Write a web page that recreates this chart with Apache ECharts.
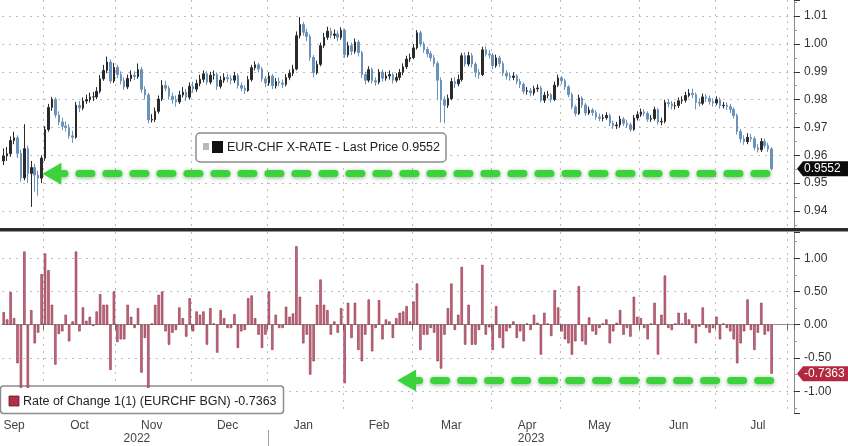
<!DOCTYPE html>
<html><head><meta charset="utf-8">
<script src="https://cdn.jsdelivr.net/npm/echarts@6/dist/echarts.min.js"></script>
<style>html,body{margin:0;padding:0;background:#fff}#c{width:848px;height:446px}</style>
</head><body><div id="c"></div>
<script>
// ---------- data ----------
const startDate = '2022-09-15';
const endDate = '2023-08-02';
const monthNames = ['Jan','Feb','Mar','Apr','May','Jun','Jul','Aug','Sep','Oct','Nov','Dec'];
const monthLabelDates = ['2022-09-20','2022-10-17','2022-11-15','2022-12-15','2023-01-16','2023-02-15','2023-03-16','2023-04-17','2023-05-16','2023-06-16','2023-07-19'];
const yearLabelDates = ['2022-11-09','2023-04-18'];

const open = [
0.9580,0.9598,0.9606,0.9653,0.9663,0.9607,0.9519,0.9624,0.9535,0.9556,
0.9529,0.9518,0.9590,0.9693,0.9772,0.9801,0.9745,0.9720,0.9705,0.9700,
0.9670,0.9665,0.9780,0.9770,0.9795,0.9800,0.9810,0.9810,0.9830,0.9875,
0.9905,0.9935,0.9867,0.9916,0.9890,0.9868,0.9846,0.9876,0.9888,0.9883,
0.9908,0.9837,0.9817,0.9727,0.9729,0.9758,0.9802,0.9851,0.9841,0.9812,
0.9800,0.9792,0.9817,0.9827,0.9809,0.9848,0.9838,0.9858,0.9873,0.9893,
0.9863,0.9888,0.9890,0.9848,0.9870,0.9880,0.9875,0.9870,0.9886,0.9851,
0.9841,0.9833,0.9872,0.9915,0.9925,0.9910,0.9875,0.9860,0.9885,0.9850,
0.9865,0.9860,0.9855,0.9880,0.9895,0.9910,1.0030,1.0070,1.0042,1.0027,
0.9952,0.9897,0.9927,0.9994,1.0024,1.0046,1.0031,1.0036,1.0024,1.0049,
0.9961,0.9994,0.9974,1.0007,0.9969,0.9890,0.9870,0.9908,0.9868,0.9863,
0.9899,0.9877,0.9885,0.9890,0.9870,0.9880,0.9898,0.9918,0.9946,0.9951,
0.9986,1.0040,1.0000,0.9980,0.9965,0.9950,0.9930,0.9870,0.9800,0.9780,
0.9804,0.9865,0.9857,0.9872,0.9958,0.9928,0.9958,0.9928,0.9898,0.9890,
0.9979,0.9964,0.9960,0.9922,0.9950,0.9930,0.9895,0.9885,0.9880,0.9885,
0.9865,0.9855,0.9830,0.9832,0.9824,0.9839,0.9842,0.9798,0.9816,0.9818,
0.9801,0.9852,0.9878,0.9868,0.9846,0.9818,0.9774,0.9750,0.9806,0.9781,
0.9752,0.9763,0.9753,0.9738,0.9733,0.9735,0.9743,0.9716,0.9706,0.9709,
0.9730,0.9715,0.9710,0.9693,0.9734,0.9746,0.9756,0.9751,0.9730,0.9732,
0.9764,0.9720,0.9722,0.9790,0.9785,0.9777,0.9779,0.9796,0.9798,0.9815,
0.9823,0.9818,0.9790,0.9787,0.9810,0.9805,0.9793,0.9788,0.9800,0.9778,
0.9780,0.9775,0.9765,0.9743,0.9686,0.9659,0.9649,0.9665,0.9660,0.9628,
0.9620,0.9650,0.9635,0.9623];

const high = [
0.9625,0.9630,0.9668,0.9685,0.9672,0.9620,0.9712,0.9635,0.9580,0.9570,
0.9545,0.9600,0.9705,0.9785,0.9810,0.9808,0.9758,0.9735,0.9722,0.9712,
0.9688,0.9792,0.9795,0.9808,0.9818,0.9825,0.9828,0.9845,0.9888,0.9925,
0.9955,0.9945,0.9932,0.9925,0.9902,0.9880,0.9890,0.9905,0.9902,0.9930,
0.9918,0.9848,0.9825,0.9748,0.9772,0.9815,0.9870,0.9868,0.9850,0.9825,
0.9815,0.9832,0.9845,0.9838,0.9862,0.9865,0.9872,0.9890,0.9905,0.9902,
0.9900,0.9905,0.9898,0.9885,0.9895,0.9892,0.9888,0.9900,0.9895,0.9862,
0.9852,0.9885,0.9925,0.9938,0.9932,0.9918,0.9885,0.9898,0.9892,0.9878,
0.9880,0.9872,0.9892,0.9908,0.9925,1.0045,1.0097,1.0080,1.0055,1.0035,
0.9960,0.9940,1.0005,1.0040,1.0062,1.0058,1.0052,1.0048,1.0060,1.0055,
1.0008,1.0005,1.0020,1.0015,0.9975,0.9900,0.9920,0.9915,0.9880,0.9910,
0.9908,0.9900,0.9905,0.9898,0.9895,0.9910,0.9930,0.9958,0.9965,1.0000,
1.0050,1.0048,1.0008,0.9990,0.9975,0.9960,0.9938,0.9880,0.9812,0.9818,
0.9878,0.9880,0.9890,0.9968,0.9970,0.9972,0.9968,0.9935,0.9910,0.9990,
0.9992,0.9978,0.9968,0.9962,0.9958,0.9938,0.9905,0.9898,0.9898,0.9892,
0.9875,0.9862,0.9845,0.9842,0.9850,0.9855,0.9850,0.9828,0.9832,0.9825,
0.9865,0.9890,0.9885,0.9875,0.9852,0.9825,0.9782,0.9818,0.9812,0.9788,
0.9775,0.9770,0.9762,0.9750,0.9748,0.9755,0.9750,0.9725,0.9720,0.9742,
0.9738,0.9728,0.9718,0.9745,0.9758,0.9768,0.9765,0.9758,0.9745,0.9775,
0.9770,0.9735,0.9800,0.9802,0.9795,0.9792,0.9808,0.9812,0.9828,0.9838,
0.9840,0.9825,0.9805,0.9822,0.9820,0.9815,0.9805,0.9812,0.9808,0.9792,
0.9790,0.9785,0.9772,0.9750,0.9695,0.9672,0.9680,0.9678,0.9668,0.9640,
0.9662,0.9660,0.9645,0.9630];

const low = [
0.9565,0.9580,0.9595,0.9640,0.9590,0.9505,0.9510,0.9500,0.9415,0.9470,
0.9455,0.9500,0.9580,0.9685,0.9760,0.9735,0.9708,0.9690,0.9685,0.9660,
0.9645,0.9660,0.9755,0.9762,0.9785,0.9790,0.9795,0.9802,0.9822,0.9868,
0.9895,0.9858,0.9860,0.9878,0.9855,0.9835,0.9838,0.9865,0.9870,0.9875,
0.9825,0.9800,0.9715,0.9718,0.9720,0.9750,0.9795,0.9830,0.9800,0.9785,
0.9775,0.9785,0.9808,0.9795,0.9800,0.9825,0.9828,0.9848,0.9862,0.9852,
0.9855,0.9872,0.9835,0.9840,0.9860,0.9862,0.9855,0.9860,0.9840,0.9830,
0.9820,0.9828,0.9865,0.9905,0.9898,0.9865,0.9845,0.9850,0.9838,0.9840,
0.9848,0.9842,0.9848,0.9870,0.9885,0.9905,1.0020,1.0030,1.0010,0.9940,
0.9880,0.9890,0.9920,0.9985,1.0015,1.0020,1.0018,1.0010,1.0015,0.9950,
0.9952,0.9960,0.9965,0.9955,0.9878,0.9855,0.9862,0.9858,0.9850,0.9855,
0.9865,0.9868,0.9872,0.9858,0.9862,0.9870,0.9888,0.9910,0.9935,0.9945,
0.9980,0.9990,0.9968,0.9952,0.9938,0.9918,0.9800,0.9718,0.9715,0.9770,
0.9798,0.9842,0.9848,0.9865,0.9918,0.9920,0.9915,0.9880,0.9875,0.9885,
0.9955,0.9948,0.9910,0.9915,0.9918,0.9885,0.9872,0.9868,0.9870,0.9855,
0.9842,0.9820,0.9818,0.9812,0.9815,0.9828,0.9790,0.9788,0.9805,0.9790,
0.9795,0.9845,0.9855,0.9835,0.9808,0.9765,0.9740,0.9745,0.9770,0.9742,
0.9745,0.9742,0.9728,0.9722,0.9722,0.9728,0.9705,0.9695,0.9695,0.9700,
0.9705,0.9698,0.9685,0.9688,0.9725,0.9738,0.9740,0.9720,0.9720,0.9725,
0.9710,0.9708,0.9715,0.9772,0.9765,0.9765,0.9770,0.9785,0.9790,0.9808,
0.9805,0.9765,0.9775,0.9780,0.9792,0.9782,0.9775,0.9780,0.9768,0.9768,
0.9762,0.9752,0.9732,0.9675,0.9645,0.9638,0.9640,0.9648,0.9618,0.9610,
0.9612,0.9625,0.9612,0.9545];

const close = [
0.9598,0.9606,0.9653,0.9663,0.9607,0.9519,0.9624,0.9535,0.9556,0.9529,
0.9518,0.9590,0.9693,0.9772,0.9801,0.9745,0.9720,0.9705,0.9700,0.9670,
0.9665,0.9780,0.9770,0.9795,0.9800,0.9810,0.9810,0.9830,0.9875,0.9905,
0.9935,0.9867,0.9916,0.9890,0.9868,0.9846,0.9876,0.9888,0.9883,0.9908,
0.9837,0.9817,0.9727,0.9729,0.9758,0.9802,0.9851,0.9841,0.9812,0.9800,
0.9792,0.9817,0.9827,0.9809,0.9848,0.9838,0.9858,0.9873,0.9893,0.9863,
0.9888,0.9890,0.9848,0.9870,0.9880,0.9875,0.9870,0.9886,0.9851,0.9841,
0.9833,0.9872,0.9915,0.9925,0.9910,0.9875,0.9860,0.9885,0.9850,0.9865,
0.9860,0.9855,0.9880,0.9895,0.9910,1.0030,1.0070,1.0042,1.0027,0.9952,
0.9897,0.9927,0.9994,1.0024,1.0046,1.0031,1.0036,1.0024,1.0049,0.9961,
0.9994,0.9974,1.0007,0.9969,0.9890,0.9870,0.9908,0.9868,0.9863,0.9899,
0.9877,0.9885,0.9890,0.9870,0.9880,0.9898,0.9918,0.9946,0.9951,0.9986,
1.0040,1.0000,0.9980,0.9965,0.9950,0.9930,0.9870,0.9800,0.9780,0.9804,
0.9865,0.9857,0.9872,0.9958,0.9928,0.9958,0.9928,0.9898,0.9890,0.9979,
0.9964,0.9960,0.9922,0.9950,0.9930,0.9895,0.9885,0.9880,0.9885,0.9865,
0.9855,0.9830,0.9832,0.9824,0.9839,0.9842,0.9798,0.9816,0.9818,0.9801,
0.9852,0.9878,0.9868,0.9846,0.9818,0.9774,0.9750,0.9806,0.9781,0.9752,
0.9763,0.9753,0.9738,0.9733,0.9735,0.9743,0.9716,0.9706,0.9709,0.9730,
0.9715,0.9710,0.9693,0.9734,0.9746,0.9756,0.9751,0.9730,0.9732,0.9764,
0.9720,0.9722,0.9790,0.9785,0.9777,0.9779,0.9796,0.9798,0.9815,0.9823,
0.9818,0.9790,0.9787,0.9810,0.9805,0.9793,0.9788,0.9800,0.9778,0.9780,
0.9775,0.9765,0.9743,0.9686,0.9659,0.9649,0.9665,0.9660,0.9628,0.9620,
0.9650,0.9635,0.9623,0.9552];

const rateOfChange = [
0.19,0.08,0.49,0.10,-0.58,-0.95,1.10,-0.95,0.22,-0.28,
-0.12,0.76,1.07,0.82,0.30,-0.60,-0.14,-0.10,0.15,-0.25,
0.05,1.10,-0.10,0.26,0.06,0.12,-0.02,0.20,0.46,0.30,
0.30,-0.68,0.50,-0.26,-0.22,-0.22,0.30,0.12,-0.05,0.25,
-0.72,-0.20,-0.95,0.02,0.30,0.45,0.50,-0.10,-0.30,-0.12,
-0.08,0.26,0.10,-0.18,0.40,-0.10,0.20,
0.15,0.20,-0.30,0.25,0.02,-0.42,0.22,0.10,-0.05,-0.05,
0.16,-0.35,-0.10,-0.08,0.40,0.44,0.10,-0.15,-0.35,-0.15,
0.50,-0.38,0.15,-0.05,-0.05,0.27,0.12,0.17,1.18,0.42,
-0.28,-0.15,-0.75,-0.55,0.30,0.68,0.30,0.22,-0.15,0.05,
-0.12,0.25,-0.88,0.33,-0.20,0.33,-0.38,-0.55,-0.15,0.38,
-0.40,-0.05,0.37,-0.22,0.08,0.05,-0.20,0.10,
0.18,0.20,0.28,0.05,0.35,0.62,-0.38,-0.15,-0.15,-0.05,
-0.12,-0.55,-0.66,-0.15,0.25,0.62,-0.08,0.15,0.87,-0.30,
0.30,-0.30,-0.30,-0.08,0.90,-0.15,-0.04,-0.38,0.28,-0.20,
-0.35,-0.10,-0.05,0.05,-0.20,-0.10,-0.25,0.02,-0.08,0.15,
0.03,-0.45,0.18,0.02,-0.17,0.52,0.26,-0.10,-0.22,-0.28,
-0.45,-0.25,0.58,-0.25,-0.30,0.11,
-0.10,-0.15,-0.05,0.02,0.08,-0.28,-0.10,0.03,0.22,-0.15,
-0.05,-0.18,0.42,0.12,0.10,-0.05,-0.22,0.02,0.33,-0.45,
0.15,0.74,-0.05,-0.08,0.02,0.18,0.02,0.18,0.08,-0.05,
-0.28,-0.03,0.26,-0.05,-0.12,-0.05,0.12,-0.22,0.02,-0.05,
-0.10,-0.22,-0.58,-0.28,-0.10,0.38,-0.08,-0.38,-0.12,0.33,
-0.15,-0.10,-0.7363];

const priceArrowLevel = 0.9534;
const rocArrowLevel = -0.838;
const priceArrowStart = '2022-10-05';
const rocArrowStart = '2023-02-27';

// ---------- categories (weekdays) ----------
const categories = [];
for (let d = new Date(startDate + 'T00:00:00Z'); d <= new Date(endDate + 'T00:00:00Z'); d.setUTCDate(d.getUTCDate() + 1)) {
  const wd = d.getUTCDay();
  if (wd === 0 || wd === 6) continue;
  categories.push(d.toISOString().slice(0, 10));
}
const lastIdx = close.length - 1;
const lastPrice = close[lastIdx];
const lastRoc = rateOfChange[rateOfChange.length - 1];

const candleData = close.map((c, i) => [open[i], c, low[i], high[i]]);

const FONT = '"Liberation Sans", Arial, sans-serif';
const GRID_LEFT = 2, GRID_RIGHT = 54;
const dotted = { color: '#bdbdbd', width: 1, type: [2, 5] };
const monthStart = (i) => i > 0 && categories[i].slice(0, 7) !== categories[i - 1].slice(0, 7);
const yearStart = (i) => i > 0 && categories[i].slice(0, 4) !== categories[i - 1].slice(0, 4);
const greenLine = { color: '#3bd23b', width: 7, type: [13, 14], cap: 'round',
  shadowColor: 'rgba(0,90,0,0.45)', shadowBlur: 4, shadowOffsetY: 1, opacity: 1 };

const chart = echarts.init(document.getElementById('c'), null, { renderer: 'canvas' });
const option = {
  animation: false,
  backgroundColor: '#ffffff',
  textStyle: { fontFamily: FONT },
  grid: [
    { left: GRID_LEFT, right: GRID_RIGHT, top: 0, height: 228, outerBoundsMode: 'none' },
    { left: GRID_LEFT, right: GRID_RIGHT, top: 232, height: 181, outerBoundsMode: 'none' }
  ],
  xAxis: [
    { gridIndex: 0, type: 'category', data: categories, boundaryGap: true,
      axisLine: { show: false }, axisTick: { show: false }, axisLabel: { show: false },
      splitLine: { show: true, interval: (i) => monthStart(i), lineStyle: dotted } },
    { gridIndex: 1, type: 'category', data: categories, boundaryGap: true,
      axisLine: { show: true, lineStyle: { color: '#8e8e8e', width: 1 } },
      axisTick: { show: true, interval: (i) => monthStart(i), length: 5, lineStyle: { color: '#666' } },
      axisLabel: { show: true, interval: (i, v) => monthLabelDates.includes(v),
        formatter: (v) => monthNames[+v.slice(5, 7) - 1], color: '#444', fontSize: 12, margin: 7, fontFamily: FONT },
      splitLine: { show: true, interval: (i) => monthStart(i), lineStyle: dotted } },
    { gridIndex: 1, type: 'category', data: categories, boundaryGap: false, position: 'bottom', offset: 17,
      axisLine: { show: false },
      axisTick: { show: true, interval: (i) => yearStart(i), length: 16, lineStyle: { color: '#a0a0a0' } },
      axisLabel: { show: true, interval: (i, v) => yearLabelDates.includes(v),
        formatter: (v) => v.slice(0, 4), color: '#444', fontSize: 12, margin: 3, fontFamily: FONT },
      splitLine: { show: false } }
  ],
  yAxis: [
    { gridIndex: 0, type: 'value', position: 'right', min: 0.9339, max: 1.0158, splitNumber: 8,
      axisLine: { show: true, lineStyle: { color: '#8a8a8a' } },
      axisTick: { show: true, length: 6, lineStyle: { color: '#333' } },
      minorTick: { show: true, splitNumber: 2, length: 3, lineStyle: { color: '#999' } },
      axisLabel: { formatter: (v) => v.toFixed(2), color: '#333', fontSize: 12, margin: 10,
        showMinLabel: false, showMaxLabel: false, fontFamily: FONT },
      splitLine: { show: true, showMinLine: false, showMaxLine: false, lineStyle: dotted } },
    { gridIndex: 1, type: 'value', position: 'right', min: -1.327, max: 1.394, splitNumber: 5,
      axisLine: { show: true, lineStyle: { color: '#8a8a8a' } },
      axisTick: { show: true, length: 6, lineStyle: { color: '#333' } },
      minorTick: { show: true, splitNumber: 2, length: 3, lineStyle: { color: '#999' } },
      axisLabel: { formatter: (v) => v.toFixed(2), color: '#333', fontSize: 12, margin: 10,
        showMinLabel: false, showMaxLabel: false, fontFamily: FONT },
      splitLine: { show: true, showMinLine: false, showMaxLine: false, lineStyle: dotted } }
  ],
  series: [
    { type: 'candlestick', name: 'EUR-CHF X-RATE', xAxisIndex: 0, yAxisIndex: 0, data: candleData,
      barWidth: 2,
      itemStyle: { color: '#2a2a2a', color0: '#6a93bc', borderColor: '#2a2a2a', borderColor0: '#6a93bc', borderWidth: 1 },
      markLine: { silent: true, symbol: ['triangle', 'none'], symbolSize: [22, 19], label: { show: false },
        lineStyle: greenLine, emphasis: { disabled: true },
        data: [[ { coord: [priceArrowStart, priceArrowLevel] }, { coord: [categories[lastIdx], priceArrowLevel] } ]] } },
    { type: 'bar', name: 'Rate of Change', xAxisIndex: 1, yAxisIndex: 1, data: rateOfChange,
      barWidth: 2.4,
      itemStyle: { color: '#c46c81', borderColor: '#8a2a40', borderWidth: 0.6 },
      markLine: { silent: true, symbol: ['triangle', 'none'], symbolSize: [22, 19], label: { show: false },
        lineStyle: greenLine, emphasis: { disabled: true },
        data: [[ { coord: [rocArrowStart, rocArrowLevel] }, { coord: [categories[lastIdx], rocArrowLevel] } ]] } }
  ]
};
chart.setOption(option);

function tag(id, y, text, bg) {
  const x0 = 848 - GRID_RIGHT + 3;
  return { type: 'group', id: id, z: 120, children: [
    { type: 'polygon', shape: { points: [[x0, y], [x0 + 6, y - 7.5], [848, y - 7.5], [848, y + 7.5], [x0 + 6, y + 7.5]] },
      style: { fill: bg } },
    { type: 'text', x: x0 + 7, y: y, style: { text: text, fill: '#fff', font: '12px ' + FONT, verticalAlign: 'middle', align: 'left' } }
  ] };
}
const yPrice = chart.convertToPixel({ yAxisIndex: 0 }, lastPrice);
const yRoc = chart.convertToPixel({ yAxisIndex: 1 }, lastRoc);

chart.setOption({ graphic: [
  { type: 'rect', id: 'sep', z: 110, shape: { x: 0, y: 228, width: 848, height: 3.5 }, style: { fill: '#2b2b2b' } },
  { type: 'group', id: 'leg1', z: 115, children: [
    { type: 'rect', shape: { x: 196, y: 133, width: 250, height: 29, r: 4 }, style: { fill: '#fff', stroke: '#8c8c8c', lineWidth: 1.5 } },
    { type: 'rect', shape: { x: 203, y: 143, width: 6, height: 7 }, style: { fill: '#b8b8b8' } },
    { type: 'rect', shape: { x: 212, y: 141, width: 11, height: 12 }, style: { fill: '#111' } },
    { type: 'text', x: 227, y: 147.5, style: { text: 'EUR-CHF X-RATE - Last Price ' + lastPrice.toFixed(4), fill: '#222', font: '12.5px ' + FONT, verticalAlign: 'middle' } }
  ] },
  { type: 'group', id: 'leg2', z: 115, children: [
    { type: 'rect', shape: { x: 0.5, y: 386, width: 283, height: 27.5, r: 3 }, style: { fill: '#fff', stroke: '#8c8c8c', lineWidth: 1.5 } },
    { type: 'rect', shape: { x: 9, y: 396, width: 10, height: 10 }, style: { fill: '#b0304a', stroke: '#6e1426', lineWidth: 0.8 } },
    { type: 'text', x: 23, y: 401.5, style: { text: 'Rate of Change 1(1) (EURCHF BGN) ' + lastRoc.toFixed(4), fill: '#222', font: '12.5px ' + FONT, verticalAlign: 'middle' } }
  ] },
  tag('tag1', yPrice, lastPrice.toFixed(4), '#0b0b0b'),
  tag('tag2', yRoc, lastRoc.toFixed(4), '#b3283f')
] });
</script>
</body></html>
